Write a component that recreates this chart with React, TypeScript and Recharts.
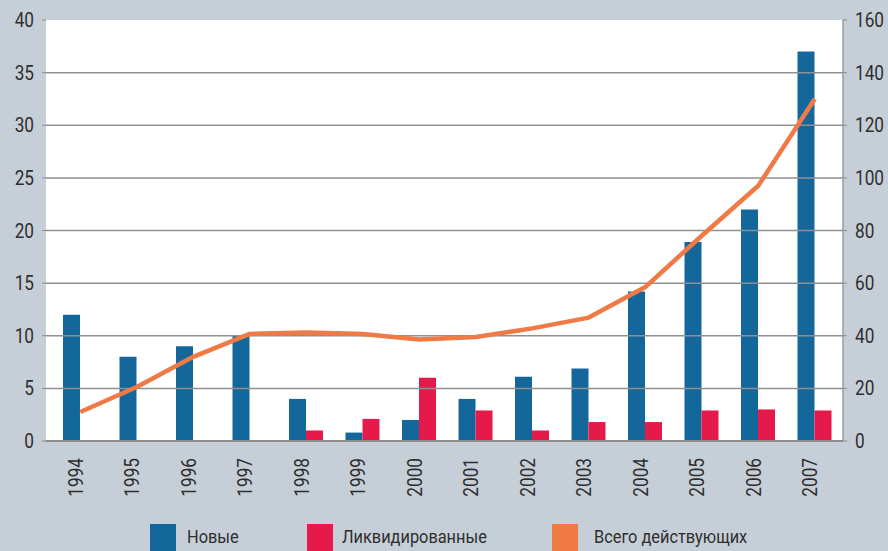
import React from 'react';
import { ComposedChart, Bar, Line, XAxis, YAxis, CartesianGrid, ReferenceLine } from 'recharts';

const years = ['1994', '1995', '1996', '1997', '1998', '1999', '2000', '2001', '2002', '2003', '2004', '2005', '2006', '2007'];
const newFirms = [12, 8, 9, 10, 4, 0.8, 2, 4, 6.1, 6.9, 14.2, 18.9, 22, 37];
const liquidated = [0, 0, 0, 0, 1, 2.1, 6, 2.9, 1, 1.8, 1.8, 2.9, 3, 2.9];
const totalActive = [11, 20.5, 32, 40.7, 41.2, 40.7, 38.6, 39.5, 42.8, 46.9, 58.5, 78, 97, 130];

const leftTicks = [0, 5, 10, 15, 20, 25, 30, 35, 40];
const rightTicks = [0, 20, 40, 60, 80, 100, 120, 140, 160];
const gridValues = [5, 10, 15, 20, 25, 30, 35];

const seriesNames = { newFirms: 'Новые', liquidated: 'Ликвидированные', total: 'Всего действующих' };

const BLUE = '#14679a';
const RED = '#e6194b';
const ORANGE = '#f07a45';
const BG = '#c6cfd7';
const TEXT = '#2e2e2e';
const FONT = 'Roboto, "Noto Sans", sans-serif';

const data = years.map((y, i) => ({
  year: y,
  newFirms: newFirms[i],
  liquidated: liquidated[i],
  total: totalActive[i],
}));

const XTick = (props: any) => {
  const { x, y, payload } = props;
  return (
    <text
      x={0}
      y={0}
      transform={`translate(${x - 4},${y + 9}) rotate(-90) scale(0.86,1)`}
      textAnchor="end"
      dominantBaseline="central"
      fill={TEXT}
      fontSize={20}
      fontFamily={FONT}
    >
      {payload.value}
    </text>
  );
};

const YTick = (props: any) => {
  const { x, y, payload, textAnchor } = props;
  return (
    <text
      x={0}
      y={0}
      transform={`translate(${x},${y}) scale(0.82,1)`}
      textAnchor={textAnchor}
      dominantBaseline="central"
      fill={TEXT}
      fontSize={21}
      fontFamily={FONT}
    >
      {payload.value}
    </text>
  );
};

const legendItems = [
  { name: seriesNames.newFirms, color: BLUE, sq: 150, tx: 187 },
  { name: seriesNames.liquidated, color: RED, sq: 307, tx: 342 },
  { name: seriesNames.total, color: ORANGE, sq: 552, tx: 594 },
];

export default function App() {
  return (
    <div style={{ position: 'relative', width: 888, height: 551, background: BG, overflow: 'hidden' }}>
      <style>{'body{margin:0}'}</style>
      <ComposedChart
        width={888}
        height={551}
        data={data}
        margin={{ top: 20, right: 0, left: 0, bottom: 50 }}
        barGap={0}
      >
        <CartesianGrid horizontal={false} vertical={false} fill="#ffffff" fillOpacity={1} />
        <XAxis
          dataKey="year"
          height={60}
          tick={<XTick />}
          tickLine={false}
          axisLine={{ stroke: '#8c8c8c', strokeWidth: 2 }}
          interval={0}
          padding={{ left: 6, right: 0 }}
        />
        <YAxis
          yAxisId="left"
          orientation="left"
          width={46}
          domain={[0, 40]}
          ticks={leftTicks}
          tickLine={{ stroke: '#8c8c8c' }}
          tickSize={4}
          tickMargin={8}
          axisLine={false}
          tick={<YTick />}
        />
        <YAxis
          yAxisId="right"
          orientation="right"
          width={45}
          domain={[0, 160]}
          ticks={rightTicks}
          tickLine={{ stroke: '#8c8c8c' }}
          tickSize={4}
          tickMargin={8}
          axisLine={{ stroke: '#9a9a9a', strokeWidth: 1.5 }}
          tick={<YTick />}
        />
        {gridValues.map((v) => (
          <ReferenceLine key={v} yAxisId="left" y={v} stroke="#8f8f8f" strokeWidth={1.5} />
        ))}
        <Bar yAxisId="left" dataKey="newFirms" name={seriesNames.newFirms} fill={BLUE} barSize={17} isAnimationActive={false} />
        <Bar yAxisId="left" dataKey="liquidated" name={seriesNames.liquidated} fill={RED} barSize={17} isAnimationActive={false} />
        <Line
          yAxisId="right"
          type="linear"
          dataKey="total"
          name={seriesNames.total}
          stroke={ORANGE}
          strokeWidth={4.5}
          strokeLinejoin="round"
          dot={false}
          activeDot={false}
          isAnimationActive={false}
        />
      </ComposedChart>
      {legendItems.map((it) => (
        <React.Fragment key={it.name}>
          <div style={{ position: 'absolute', left: it.sq, top: 524, width: 26, height: 30, background: it.color }} />
          <div
            style={{
              position: 'absolute',
              left: it.tx,
              top: 526,
              fontFamily: FONT,
              fontSize: 19,
              color: TEXT,
              lineHeight: '22px',
              whiteSpace: 'nowrap',
              transform: 'scaleX(0.86)',
              transformOrigin: 'left center',
            }}
          >
            {it.name}
          </div>
        </React.Fragment>
      ))}
    </div>
  );
}
